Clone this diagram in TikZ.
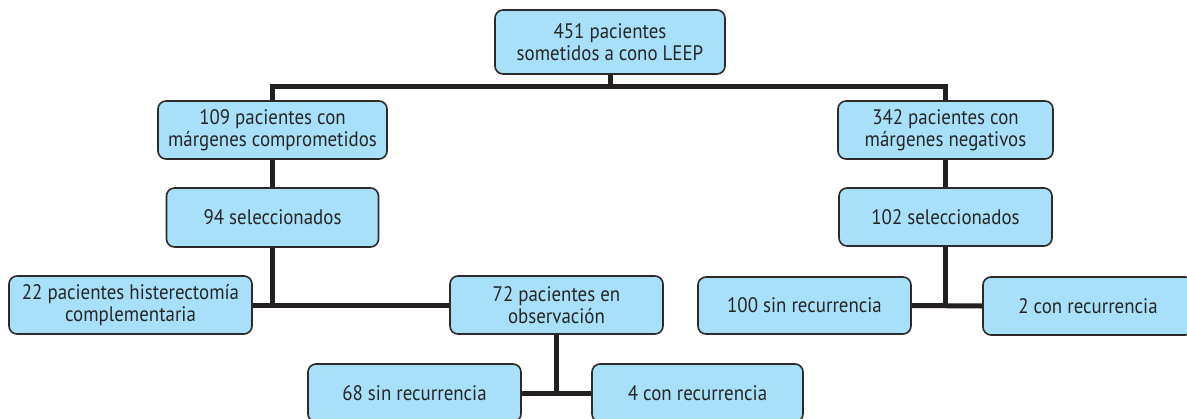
\documentclass[tikz,border=0pt]{standalone}
\usepackage{fontspec}
\setmainfont[FakeStretch=0.9]{PT Sans}
\usetikzlibrary{backgrounds}
\definecolor{boxfill}{RGB}{168,224,249}
\definecolor{boxline}{RGB}{45,42,42}
\definecolor{connline}{RGB}{35,31,32}
\begin{document}
\begin{tikzpicture}[x=1pt,y=-1pt,
  box/.style={draw=boxline,line width=1.6pt,fill=boxfill,rounded corners=8pt,
    align=center,inner sep=0pt,font=\fontsize{21}{22.5}\selectfont,text=black!85},
  conn/.style={draw=connline,line width=5pt}]
\clip (0,0) rectangle (1187,418);
\node[box,minimum width=230,minimum height=64] (top) at (610,42) {451 pacientes\\sometidos a cono LEEP};
\node[box,minimum width=229,minimum height=58] (A) at (272.5,130) {109 pacientes con\\márgenes comprometidos};
\node[box,minimum width=215,minimum height=58] (B) at (945.5,130) {342 pacientes con\\márgenes negativos};
\node[box,minimum width=212,minimum height=59] (C) at (272.5,217.5) {94 seleccionados};
\node[box,minimum width=213,minimum height=58] (D) at (945.5,217) {102 seleccionados};
\node[box,minimum width=243,minimum height=58] (E) at (130.5,305) {22 pacientes histerectomía\\complementaria};
\node[box,minimum width=213,minimum height=58] (F) at (556.5,305) {72 pacientes en\\observación};
\node[box,minimum width=213,minimum height=57] (G) at (804.5,305.5) {100 sin recurrencia};
\node[box,minimum width=210,minimum height=58] (H) at (1088,306) {2 con recurrencia};
\node[box,minimum width=213,minimum height=58] (I) at (414.5,393) {68 sin recurrencia};
\node[box,minimum width=211,minimum height=58] (J) at (697.5,393) {4 con recurrencia};
\coordinate (tb) at (610,86);
\coordinate (lj) at (272.5,305);
\coordinate (rj) at (945.5,306);
\coordinate (bj) at (556.5,393);
\begin{scope}[on background layer]
\draw[conn] (top.south) -- (tb);
\draw[conn] (A.north) |- (tb) -| (B.north);
\draw[conn] (A.south) -- (C.north);
\draw[conn] (B.south) -- (D.north);
\draw[conn] (C.south) -- (lj);
\draw[conn] (E.east) -- (F.west);
\draw[conn] (D.south) -- (rj);
\draw[conn] (G.east) -- (H.west);
\draw[conn] (F.south) -- (bj);
\draw[conn] (I.east) -- (J.west);
\end{scope}
\end{tikzpicture}
\end{document}
